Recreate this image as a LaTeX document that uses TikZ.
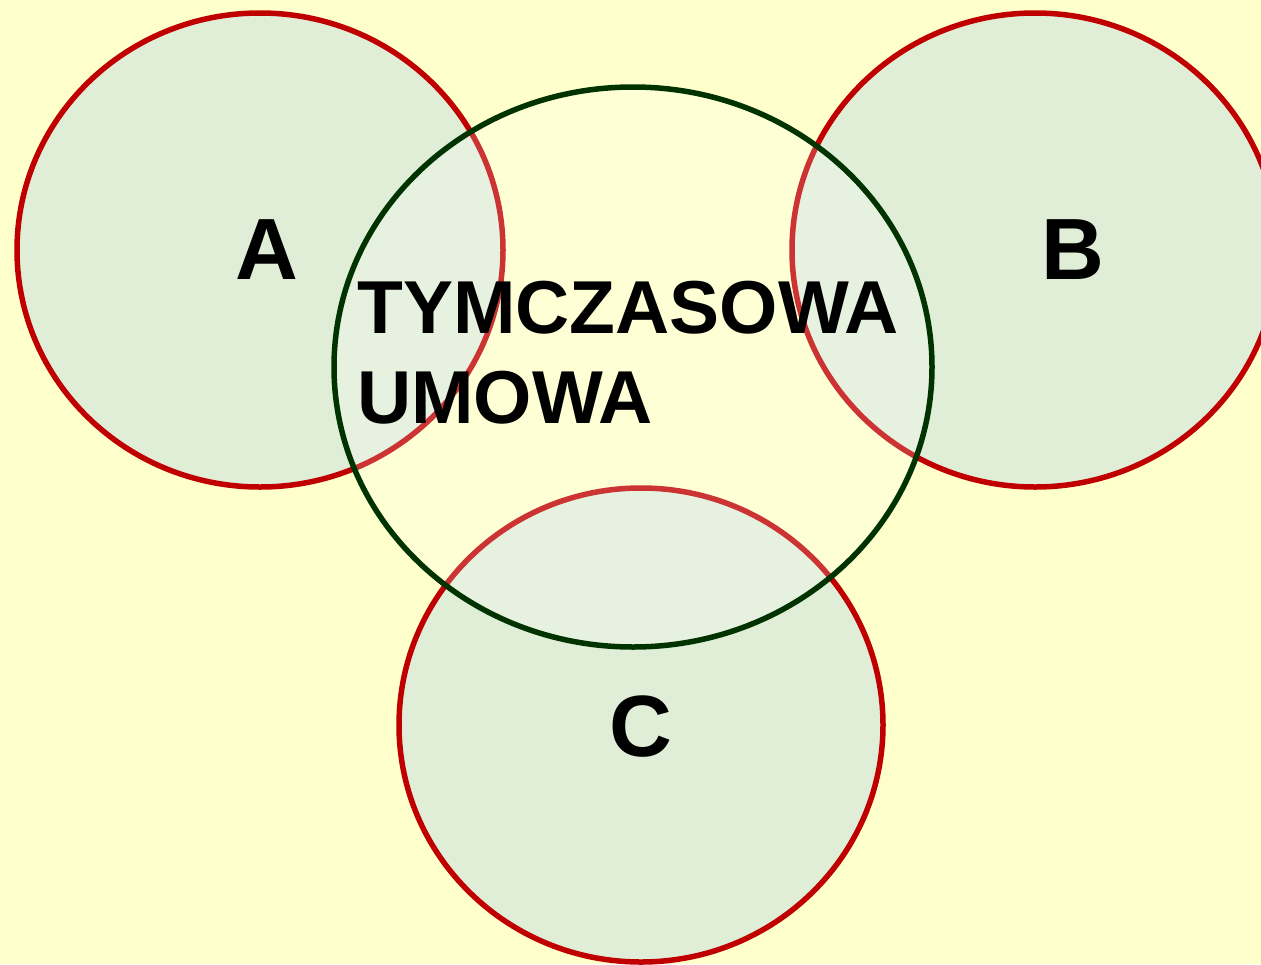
\documentclass[tikz,border=0pt]{standalone}
\usepackage{fontspec}
\setmainfont{Liberation Sans}
\definecolor{bgyel}{HTML}{FFFFCC}
\definecolor{cfill}{HTML}{E0EED8}
\definecolor{credline}{HTML}{C00000}
\definecolor{cgreenline}{HTML}{003300}
\begin{document}
\begin{tikzpicture}[x=1pt,y=-1pt,
  setcircle/.style={draw=credline,fill=cfill,line width=5.5pt},
  mainellipse/.style={draw=cgreenline,fill=white,fill opacity=0.2,line width=5.5pt},
  biglabel/.style={font=\fontsize{87}{100}\selectfont\bfseries,text=black,inner sep=0pt},
  midlabel/.style={font=\fontsize{75}{90}\selectfont\bfseries,text=black,inner sep=0pt,align=left}]
\useasboundingbox (0,0) rectangle (1261,964);
\fill[bgyel] (0,0) rectangle (1261,964);
\begin{scope}
\clip (0,0) rectangle (1261,964);
\path[setcircle] (260,250) ellipse [x radius=243, y radius=237];
\path[setcircle] (1035,250) ellipse [x radius=243, y radius=237];
\path[setcircle] (641,725) ellipse [x radius=242, y radius=237];
\path[mainellipse] (633,367) ellipse [x radius=299, y radius=280];
\end{scope}
\node[biglabel] (la) at (267,250) {A};
\node[biglabel] (lb) at (1073,250) {B};
\node[biglabel] (lc) at (641,727) {C};
\node[midlabel,anchor=north west] (lt) at (357,281) {TYMCZASOWA\\UMOWA};
\end{tikzpicture}
\end{document}
